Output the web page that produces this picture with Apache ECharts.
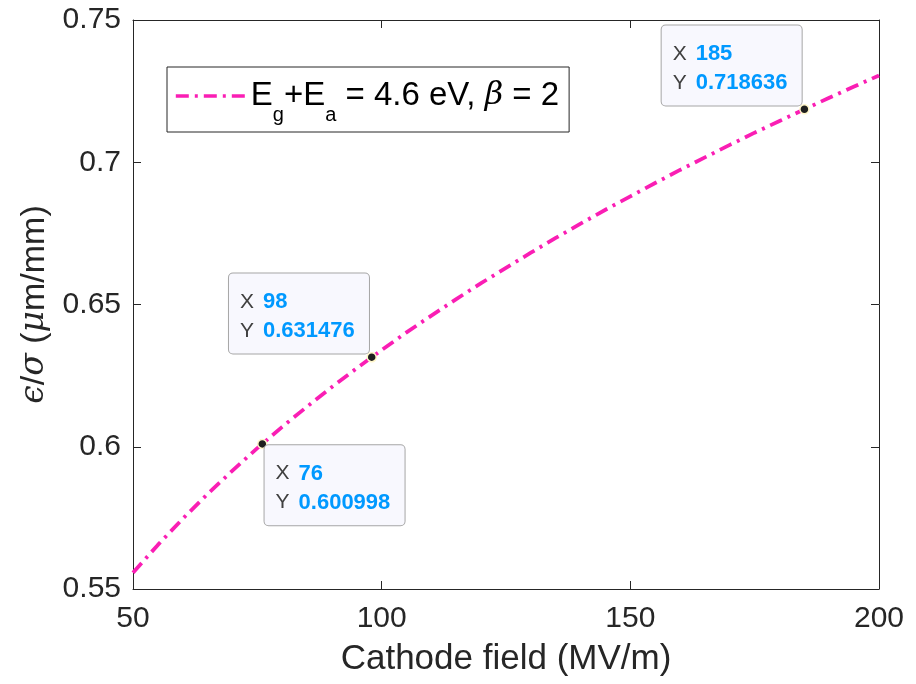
<!DOCTYPE html>
<html>
<head>
<meta charset="utf-8">
<script src="https://cdn.jsdelivr.net/npm/echarts@6/dist/echarts.min.js"></script>
<style>
html,body{margin:0;padding:0;background:#fff;}
#c{width:916px;height:684px;}
</style>
</head>
<body>
<div id="c"></div>
<script>
// Curve (Cathode field in MV/m, emittance/sigma in um/mm)
var fieldX = [50,55,60,65,70,75,80,85,90,95,100,105,110,115,120,125,130,135,140,145,150,155,160,165,170,175,180,185,190,195,200];
var emitY = [0.5557,0.5655,0.5747,0.5834,0.5916,0.5995,0.6070,0.6141,0.6210,0.6276,0.6340,0.6402,0.6461,0.6519,0.6575,0.6629,0.6682,0.6734,0.6784,0.6833,0.6880,0.6927,0.6973,0.7017,0.7061,0.7104,0.7145,0.7186,0.7227,0.7266,0.7305];
// Data tips
var tipX = [76, 98, 185];
var tipY = [0.600998, 0.631476, 0.718636];
var tipOffset = [[3, 2], [-142, -83], [-142, -83]];
// Axis ticks
var xTicks = [50, 100, 150, 200];
var yTicks = [0.55, 0.6, 0.65, 0.7, 0.75];

var seriesName = 'Eg+Ea = 4.6 eV, beta = 2';
var axisColor = '#262626';
var lineColor = '#FA1EB4';
var dashPattern = [13, 6, 3, 6];
var FONT = '"Liberation Sans", Arial, Helvetica, sans-serif';

var chart = echarts.init(document.getElementById('c'), null, {renderer: 'canvas'});

var tipData = tipX.map(function (x, i) {
  return {
    value: [x, tipY[i]],
    label: {
      show: true,
      position: [4.5, 4.5],
      align: 'left',
      verticalAlign: 'top',
      offset: tipOffset[i]
    }
  };
});

function axisCommon(extra) {
  var base = {
    axisLine: {show: true, onZero: false, lineStyle: {color: axisColor, width: 1}},
    axisTick: {show: true, inside: true, length: 8, lineStyle: {color: axisColor, width: 1}},
    splitLine: {show: false},
    axisLabel: {show: false}
  };
  for (var k in extra) base[k] = extra[k];
  return base;
}

var option = {
  backgroundColor: '#ffffff',
  animation: false,
  textStyle: {fontFamily: FONT},
  grid: {left: 133, right: 37, top: 20, bottom: 95, containLabel: false, outerBoundsMode: 'none'},
  legend: {
    show: true,
    data: [seriesName],
    left: 167,
    top: 67,
    orient: 'vertical',
    backgroundColor: '#ffffff',
    borderColor: axisColor,
    borderWidth: 1,
    borderRadius: 0,
    padding: [0, 10, 7, 7],
    itemWidth: 70,
    itemHeight: 14,
    selectedMode: false,
    itemStyle: {opacity: 0},
    lineStyle: {color: lineColor, width: 3.6, type: dashPattern, cap: 'butt'},
    formatter: function () {
      return '{n|E}{s|g}{n|+E}{s|a}{n| = 4.6 eV, }{i|β}{n| = 2}';
    },
    textStyle: {
      color: '#000',
      fontFamily: FONT,
      rich: {
        n: {fontSize: 33, lineHeight: 36, color: '#000', fontFamily: FONT},
        s: {fontSize: 20, lineHeight: 20, padding: [38, 0, 0, 0], color: '#000', fontFamily: FONT},
        i: {fontSize: 32, lineHeight: 36, fontStyle: 'italic', color: '#000', fontFamily: '"DejaVu Serif", serif'}
      }
    }
  },
  xAxis: [
    axisCommon({
      type: 'value', position: 'bottom', min: 50, max: 200, interval: 50,
      axisLabel: {show: true, color: axisColor, fontSize: 30, margin: 15, fontFamily: FONT,
        formatter: function (v) { return xTicks.indexOf(v) >= 0 ? String(v) : ''; }},
      name: 'Cathode field (MV/m)',
      nameLocation: 'middle',
      nameGap: 53,
      nameTextStyle: {color: axisColor, fontSize: 35, fontFamily: FONT}
    }),
    axisCommon({type: 'value', position: 'top', min: 50, max: 200, interval: 50})
  ],
  yAxis: [
    axisCommon({
      type: 'value', position: 'left', min: 0.55, max: 0.75, interval: 0.05,
      axisLabel: {show: true, color: axisColor, fontSize: 30, margin: 12, fontFamily: FONT,
        formatter: function (v) {
          for (var i = 0; i < yTicks.length; i++) if (Math.abs(yTicks[i] - v) < 1e-9) return String(yTicks[i]);
          return '';
        }},
      name: '{i|ϵ}{n|/}{i|σ}{n| (}{i|μ}{n|m/mm)}',
      nameLocation: 'middle',
      nameGap: 78,
      nameRotate: 90,
      nameTextStyle: {
        color: axisColor, fontSize: 34, fontFamily: FONT,
        rich: {
          n: {fontSize: 34, color: axisColor, fontFamily: FONT},
          i: {fontSize: 33, color: axisColor, fontStyle: 'italic', fontFamily: '"DejaVu Serif", serif'}
        }
      }
    }),
    axisCommon({type: 'value', position: 'right', min: 0.55, max: 0.75, interval: 0.05})
  ],
  series: [
    {
      name: seriesName,
      type: 'line',
      xAxisIndex: 0,
      yAxisIndex: 0,
      data: fieldX.map(function (x, i) { return [x, emitY[i]]; }),
      showSymbol: false,
      symbol: 'none',
      smooth: false,
      lineStyle: {color: lineColor, width: 3.8, type: dashPattern, cap: 'butt'},
      itemStyle: {color: lineColor},
      z: 2
    },
    {
      name: 'datatips',
      type: 'scatter',
      xAxisIndex: 0,
      yAxisIndex: 0,
      data: tipData,
      symbol: 'circle',
      symbolSize: 9,
      itemStyle: {color: '#1e1e1e', borderColor: '#FFF6C8', borderWidth: 1.5, opacity: 1},
      label: {
        show: true,
        formatter: function (p) {
          return '{k|X}{v|' + p.value[0] + '}\n{k|Y}{v|' + p.value[1] + '}';
        },
        backgroundColor: '#F8F8FE',
        borderColor: '#A6A6A6',
        borderWidth: 1,
        borderRadius: 4,
        padding: [14, 9, 8, 11],
        width: 120,
        lineHeight: 29,
        rich: {
          k: {fontSize: 21, color: '#404040', width: 23, lineHeight: 29, fontFamily: FONT},
          v: {fontSize: 22, color: '#0099FF', fontWeight: 'bold', lineHeight: 29, fontFamily: FONT}
        }
      },
      emphasis: {disabled: true},
      z: 5
    }
  ]
};
chart.setOption(option);
</script>
</body>
</html>
